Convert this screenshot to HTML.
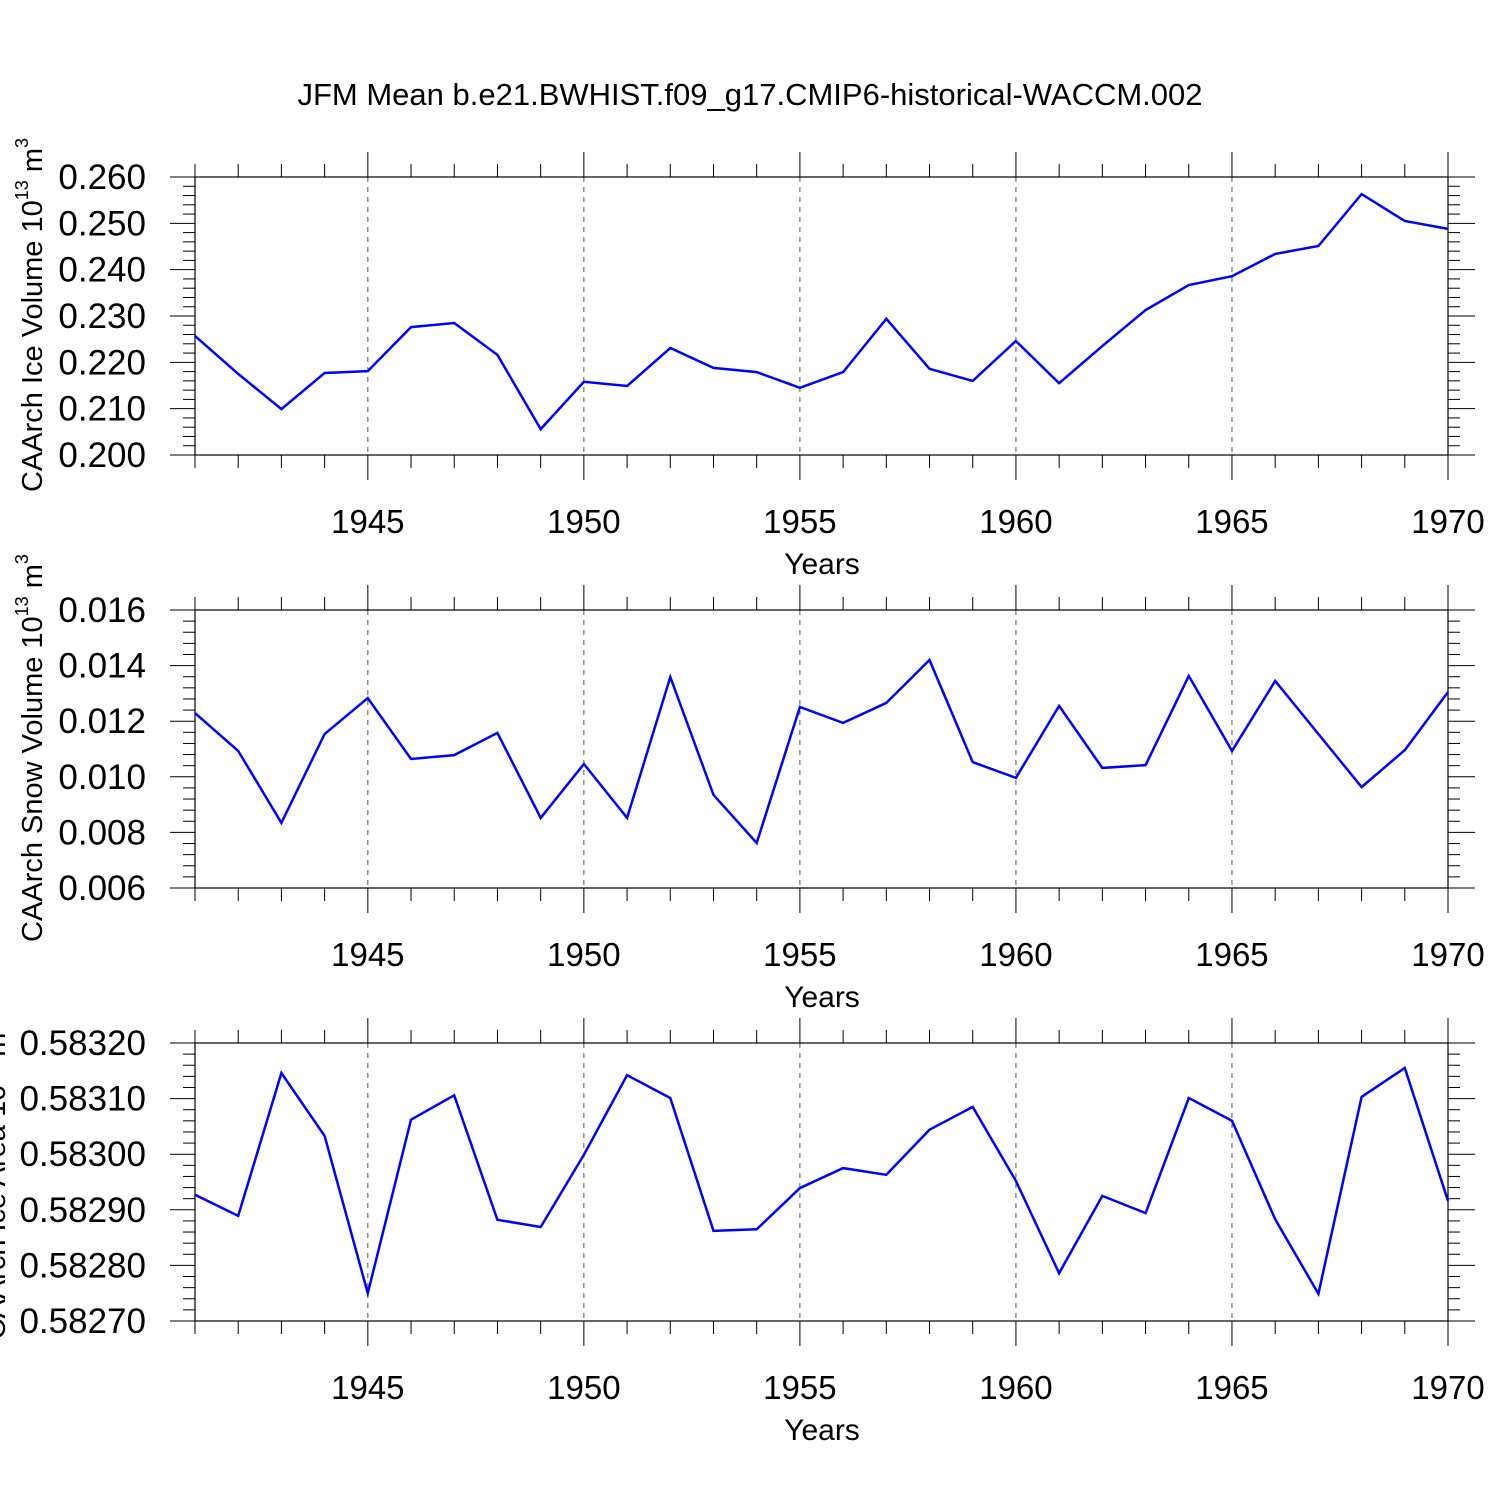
<!DOCTYPE html>
<html><head><meta charset="utf-8"><style>
html,body{margin:0;padding:0;background:#fff;}
svg{display:block;font-family:"Liberation Sans",Arial,sans-serif;}
</style></head><body>
<svg id="c" width="1500" height="1500" viewBox="0 0 1500 1500">
<text x="750" y="105" text-anchor="middle" font-size="31">JFM Mean b.e21.BWHIST.f09_g17.CMIP6-historical-WACCM.002</text>
</svg>
<script>
const years = [1941,1942,1943,1944,1945,1946,1947,1948,1949,1950,1951,1952,1953,1954,1955,1956,1957,1958,1959,1960,1961,1962,1963,1964,1965,1966,1967,1968,1969,1970];
const xTicks = [1945,1950,1955,1960,1965,1970];
const iceVolume = [0.2257,0.2175,0.2099,0.2177,0.2181,0.2276,0.2285,0.2216,0.2056,0.2158,0.2149,0.2231,0.2188,0.2179,0.2145,0.2179,0.2294,0.2186,0.2160,0.2246,0.2155,0.2235,0.2313,0.2367,0.2386,0.2434,0.2451,0.2563,0.2505,0.2488];
const snowVolume = [0.01229,0.01093,0.00834,0.01154,0.01283,0.01064,0.01078,0.01158,0.00852,0.01046,0.00852,0.01359,0.00935,0.00762,0.01251,0.01194,0.01266,0.01420,0.01053,0.00996,0.01255,0.01032,0.01042,0.01363,0.01093,0.01345,0.01154,0.00963,0.01096,0.01305];
const iceArea = [0.582927,0.582889,0.583146,0.583033,0.582750,0.583062,0.583106,0.582882,0.582869,0.582999,0.583142,0.583101,0.582862,0.582865,0.582939,0.582975,0.582963,0.583044,0.583085,0.582952,0.582786,0.582925,0.582894,0.583101,0.583060,0.582883,0.582749,0.583103,0.583155,0.582916];
const iceVolTicks = ["0.200","0.210","0.220","0.230","0.240","0.250","0.260"];
const snowVolTicks = ["0.006","0.008","0.010","0.012","0.014","0.016"];
const iceAreaTicks = ["0.58270","0.58280","0.58290","0.58300","0.58310","0.58320"];

const svg = document.getElementById('c');
const NS = 'http://www.w3.org/2000/svg';
function mk(tag, attrs, parent){const e=document.createElementNS(NS,tag);for(const k in attrs)e.setAttribute(k,attrs[k]);(parent||svg).appendChild(e);return e;}
const X0=195,X1=1448;
const xs = y => X0 + (y-1941)/(1970-1941)*(X1-X0);

function panel(top, vals, ticks, title, unit, name, titleX){
  const bot = top+278;
  const vmin = +ticks[0], vmax = +ticks[ticks.length-1];
  const ys = v => bot - (v-vmin)/(vmax-vmin)*(bot-top);
  const g = mk('g',{});
  
  
  xTicks.forEach(t=>{ if(t<1970){ const l=mk('line',{x1:xs(t),x2:xs(t),y1:top,y2:bot,stroke:'#555','stroke-width':1,'stroke-dasharray':'5,5'},g);
    
     }});
  years.forEach(yr=>{
    const maj = xTicks.includes(yr);
    const L = maj?25:13;
    mk('line',{x1:xs(yr),x2:xs(yr),y1:top-L,y2:top,stroke:'#000','stroke-width':1},g);
    mk('line',{x1:xs(yr),x2:xs(yr),y1:bot,y2:bot+L,stroke:'#000','stroke-width':1},g);
  });
  const n = ticks.length-1;
  for(let i=0;i<n*5+1;i++){
    const v = vmin + (vmax-vmin)*i/(n*5);
    const maj = i%5===0;
    const L = maj?25:12;
    const yy = ys(v);
    mk('line',{x1:X0-L,x2:X0,y1:yy,y2:yy,stroke:'#000','stroke-width':1},g);
    mk('line',{x1:X1,x2:X1+L+(maj?2:0),y1:yy,y2:yy,stroke:'#000','stroke-width':1},g);
  }
  mk('rect',{x:X0,y:top,width:X1-X0,height:bot-top,fill:'none',stroke:'#000','stroke-width':1.2},g);
  ticks.forEach(t=>{
    const tx = mk('text',{x:146,y:ys(+t)+12,'text-anchor':'end','font-size':35},g);
    tx.textContent=t;
    
    
  });
  xTicks.forEach(t=>{
    const tx = mk('text',{x:xs(t),y:bot+78,'text-anchor':'middle','font-size':33},g);
    tx.textContent=t;
    
    
  });
  const xt = mk('text',{x:822,y:bot+119,'text-anchor':'middle','font-size':30},g);
  xt.textContent='Years';
  
  
  const cy = (top+bot)/2 - 1;
  const yt = mk('text',{x:0,y:0,'text-anchor':'middle','font-size':29,transform:`translate(${titleX},${cy}) rotate(-90)`},g);
  
  
  const a=document.createElementNS(NS,'tspan');a.textContent=title+' 10';yt.appendChild(a);
  const b=document.createElementNS(NS,'tspan');b.setAttribute('dy','-14');b.setAttribute('font-size','18');b.textContent='13';yt.appendChild(b);
  const c=document.createElementNS(NS,'tspan');c.setAttribute('dy','14');c.textContent=' m';yt.appendChild(c);
  const d=document.createElementNS(NS,'tspan');d.setAttribute('dy','-14');d.setAttribute('font-size','18');d.textContent=unit;yt.appendChild(d);
  const pts = vals.map((v,i)=>xs(years[i]).toFixed(1)+','+ys(v).toFixed(1)).join(' ');
  const pl = mk('polyline',{points:pts,fill:'none',stroke:'#0000ff','stroke-width':2.5,'stroke-linejoin':'miter'},g);
  
  
}
panel(177, iceVolume, iceVolTicks, 'CAArch Ice Volume', '3', 'ice-volume', 42);
panel(610, snowVolume, snowVolTicks, 'CAArch Snow Volume', '3', 'snow-volume', 42);
panel(1043, iceArea, iceAreaTicks, 'CAArch Ice Area', '2', 'ice-area', 5);
</script>
</body></html>
